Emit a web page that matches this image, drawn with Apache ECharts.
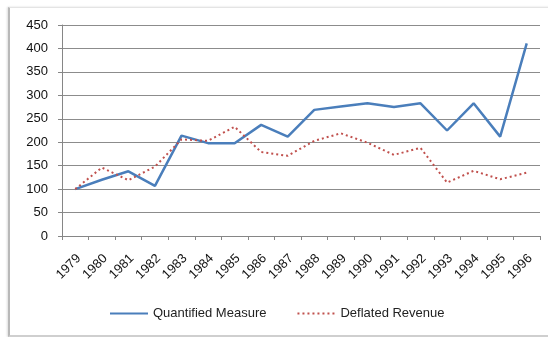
<!DOCTYPE html>
<html>
<head>
<meta charset="utf-8">
<script src="https://cdn.jsdelivr.net/npm/echarts@6/dist/echarts.min.js"></script>
<style>
  html, body { margin: 0; padding: 0; background: #fff; }
  #wrap { position: relative; width: 548px; height: 337px; overflow: hidden; }
  #frame {
    position: absolute; left: 8px; top: 7px; width: 560px; height: 327px;
    border-top: 1px solid #e4e4e4; border-bottom: 2px solid #cfcfcf;
    border-left: 2px solid #b8b8b8; box-shadow: -1px 0 2px #ddd;
  }
  #chart { position: absolute; left: 0; top: 0; width: 548px; height: 337px; }
</style>
</head>
<body>
<div id="wrap">
  <div id="frame"></div>
  <div id="chart"></div>
</div>
<script>
// Years on the category axis
const years = ['1979','1980','1981','1982','1983','1984','1985','1986','1987',
               '1988','1989','1990','1991','1992','1993','1994','1995','1996'];
// Index series (1979 = 100)
const quantifiedMeasure = [100, 120, 138, 107, 214, 198, 198, 237, 212,
                           269, 276, 283, 275, 283, 225, 283, 212, 411];
const deflatedRevenue   = [100, 146, 119, 148, 206, 203, 233, 179, 171,
                           203, 219, 199, 173, 188, 114, 139, 121, 135];

const fontFamily = '"Liberation Sans", Arial, sans-serif';
const chart = echarts.init(document.getElementById('chart'), null, { renderer: 'canvas' });

chart.setOption({
  animation: false,
  backgroundColor: 'transparent',
  textStyle: { fontFamily: fontFamily },
  grid: { left: 62, right: 8, top: 25, bottom: 101, containLabel: false },
  legend: {
    bottom: 12,
    left: 104,
    itemWidth: 38,
    itemHeight: 10,
    itemGap: 30,
    itemStyle: { opacity: 0 },
    textStyle: { fontSize: 13, color: '#222', fontFamily: fontFamily },
    data: ['Quantified Measure', 'Deflated Revenue']
  },
  xAxis: {
    type: 'category',
    data: years,
    boundaryGap: true,
    axisLine: { lineStyle: { color: '#868686', width: 1 } },
    axisTick: { show: true, length: 4, lineStyle: { color: '#868686' } },
    axisLabel: { rotate: 45, fontSize: 13, color: '#111', margin: 24, interval: 0,
                 padding: [0, -5, 0, 0], fontFamily: fontFamily },
    splitLine: { show: false }
  },
  yAxis: {
    type: 'value',
    min: 0,
    max: 450,
    interval: 50,
    axisLine: { show: true, lineStyle: { color: '#868686', width: 1 } },
    axisTick: { show: true, length: 4, lineStyle: { color: '#868686' } },
    axisLabel: { fontSize: 13, color: '#111', margin: 14, fontFamily: fontFamily },
    splitLine: { show: true, lineStyle: { color: '#8c8c8c', width: 1.2 } }
  },
  series: [
    {
      name: 'Quantified Measure',
      type: 'line',
      data: quantifiedMeasure,
      symbol: 'none',
      color: '#4a7ebb',
      lineStyle: { color: '#4a7ebb', width: 2.5 }
    },
    {
      name: 'Deflated Revenue',
      type: 'line',
      data: deflatedRevenue,
      symbol: 'none',
      color: '#c0504d',
      lineStyle: { color: '#c0504d', width: 2, type: [2, 3] }
    }
  ]
});
</script>
</body>
</html>
